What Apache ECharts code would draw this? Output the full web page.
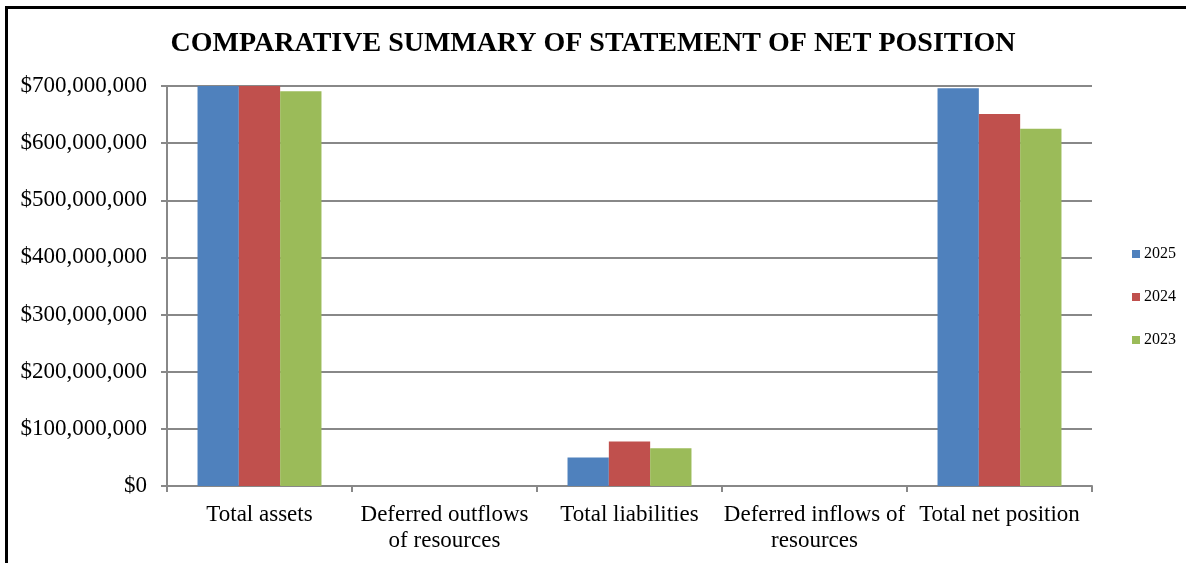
<!DOCTYPE html>
<html>
<head>
<meta charset="utf-8">
<script src="https://cdn.jsdelivr.net/npm/echarts@6/dist/echarts.min.js"></script>
<style>
html,body{margin:0;padding:0;background:#fff;}
#chart{width:1186px;height:563px;}
</style>
</head>
<body>
<div id="chart"></div>
<script>
const titleText = 'COMPARATIVE SUMMARY OF STATEMENT OF NET POSITION';
const categories = ['Total assets', 'Deferred outflows\nof resources', 'Total liabilities', 'Deferred inflows of\nresources', 'Total net position'];
const seriesNames = ['2025', '2024', '2023'];
const values2025 = [746000000, 0, 50000000, 0, 696000000];
const values2024 = [729000000, 0, 78000000, 0, 651000000];
const values2023 = [691000000, 0, 66000000, 0, 625000000];
const colors = ['#4F81BD', '#C0504D', '#9BBB59'];
const yMin = 0, yMax = 700000000, yInterval = 100000000;

const font = "'Liberation Serif', 'Times New Roman', serif";
const chart = echarts.init(document.getElementById('chart'));
const dataSets = [values2025, values2024, values2023];

chart.setOption({
  animation: false,
  title: {
    text: titleText,
    left: 'center',
    top: 25,
    textStyle: {fontFamily: font, fontSize: 28, fontWeight: 'bold', color: '#000'}
  },
  legend: {
    data: seriesNames,
    orient: 'vertical',
    left: 1127,
    top: 241,
    itemWidth: 8,
    itemHeight: 8,
    itemGap: 27,
    icon: 'rect',
    textStyle: {fontFamily: font, fontSize: 16, color: '#000', padding: [0,0,0,-1]}
  },
  grid: {left: 167, right: 94, top: 86, bottom: 77},
  xAxis: {
    type: 'category',
    data: categories,
    axisLine: {show: true, lineStyle: {color: '#888', width: 2}},
    axisTick: {show: true, length: 6, lineStyle: {color: '#888', width: 2}},
    axisLabel: {fontFamily: font, fontSize: 23, color: '#000', margin: 16, lineHeight: 26, interval: 0}
  },
  yAxis: {
    type: 'value',
    min: yMin, max: yMax, interval: yInterval,
    axisLine: {show: true, lineStyle: {color: '#888', width: 2}},
    axisTick: {show: true, length: 6, lineStyle: {color: '#888', width: 2}},
    splitLine: {show: true, lineStyle: {color: '#888', width: 2}},
    axisLabel: {
      fontFamily: font, fontSize: 23, color: '#000', margin: 20,
      formatter: v => '$' + v.toLocaleString('en-US')
    }
  },
  series: seriesNames.map((n, i) => ({
    name: n,
    type: 'bar',
    data: dataSets[i],
    barGap: '0%',
    barCategoryGap: '33%',
    clip: true,
    itemStyle: {color: colors[i]}
  })),
  graphic: [{
    type: 'polyline',
    shape: {points: [[6.5, 563], [6.5, 7.5], [1186, 7.5]]},
    style: {stroke: '#000', lineWidth: 3, fill: null},
    z: 100
  }]
});
</script>
</body>
</html>
